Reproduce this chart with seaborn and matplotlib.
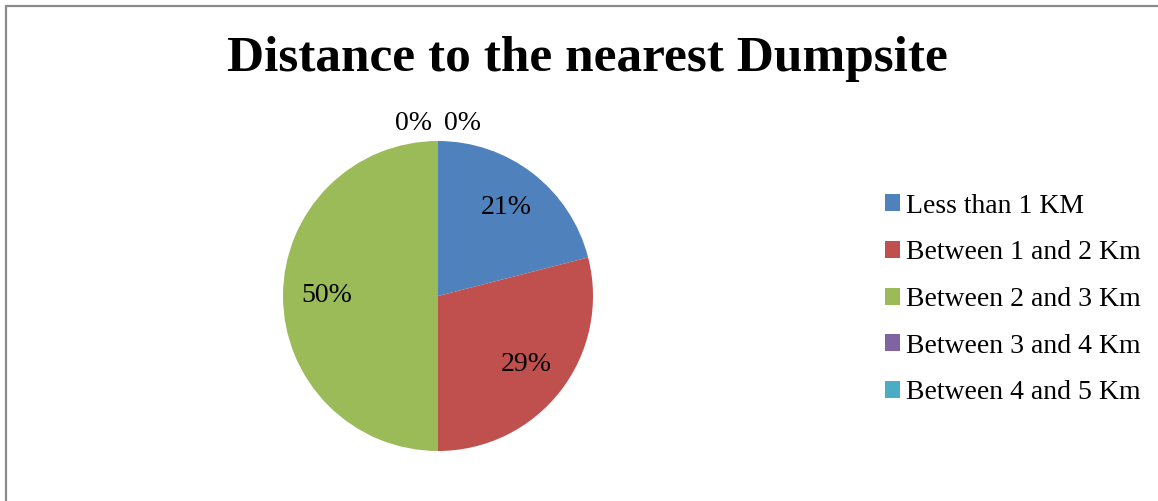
import matplotlib
matplotlib.use("Agg")
import matplotlib.pyplot as plt
import seaborn as sns
import numpy as np
from matplotlib.lines import Line2D
from matplotlib.patches import Patch

categories = ["Less than 1 KM", "Between 1 and 2 Km", "Between 2 and 3 Km",
              "Between 3 and 4 Km", "Between 4 and 5 Km"]
values = [21, 29, 50, 0, 0]
colors = ["#4F81BD", "#C0504D", "#9BBB59", "#8064A2", "#4BACC6"]
title = "Distance to the nearest Dumpsite"

sns.set_theme(style="white")
plt.rcParams['font.family'] = ['Liberation Serif', 'DejaVu Serif']
plt.rcParams['text.color'] = 'black'

W, H = 1158, 501
fig = plt.figure(figsize=(W / 100, H / 100), dpi=100)
fig.patch.set_facecolor("white")

# border (top + left)
fig.add_artist(Line2D([5.5 / W, 5.5 / W], [0, 1 - 5.5 / H], transform=fig.transFigure,
                      color="#8c8c8c", lw=1.6))
fig.add_artist(Line2D([5.5 / W, 1], [1 - 5.5 / H, 1 - 5.5 / H], transform=fig.transFigure,
                      color="#8c8c8c", lw=1.6))

cx, cy, r = 438, 296, 155
ax = fig.add_axes([(cx - r) / W, (H - cy - r) / H, 2 * r / W, 2 * r / H])
palette = sns.color_palette(colors)

wedges, texts, autotexts = ax.pie(
    values, colors=palette, startangle=90, counterclock=False,
    autopct=lambda p: f"{p:.0f}%" if p > 0.5 else "",
    pctdistance=0.72, radius=1.0,
    textprops=dict(fontsize=20, color="black"),
    wedgeprops=dict(linewidth=0))
ax.set_xlim(-1, 1)
ax.set_ylim(-1, 1)
ax.set_aspect("auto")

# labels for zero-size slices, placed above the slice boundary
zero_idx = [i for i, v in enumerate(values) if v == 0]
for k, i in enumerate(zero_idx):
    theta = np.deg2rad(wedges[i].theta1)
    x = 1.11 * np.cos(theta) + (-0.155 if k == 0 else 0.155)
    y = 1.11 * np.sin(theta)
    ax.text(x, y, f"{values[i]}%", ha="center", va="center", fontsize=20, color="black")

fig.text(587 / W, 1 - 59 / H, title, ha="center", va="center",
         fontsize=37, fontweight="bold", color="black")

handles = [Patch(facecolor=c, edgecolor="none") for c in palette]
leg = fig.legend(handles, categories, loc="center left",
                 bbox_to_anchor=(885 / W, 1 - 299.5 / H), frameon=False,
                 fontsize=20, handlelength=0.55, handleheight=0.55, handletextpad=0.2,
                 labelspacing=0.78, borderpad=0, borderaxespad=0)
for t in leg.get_texts():
    t.set_color("black")

fig.savefig("out.png", dpi=100, facecolor="white")
